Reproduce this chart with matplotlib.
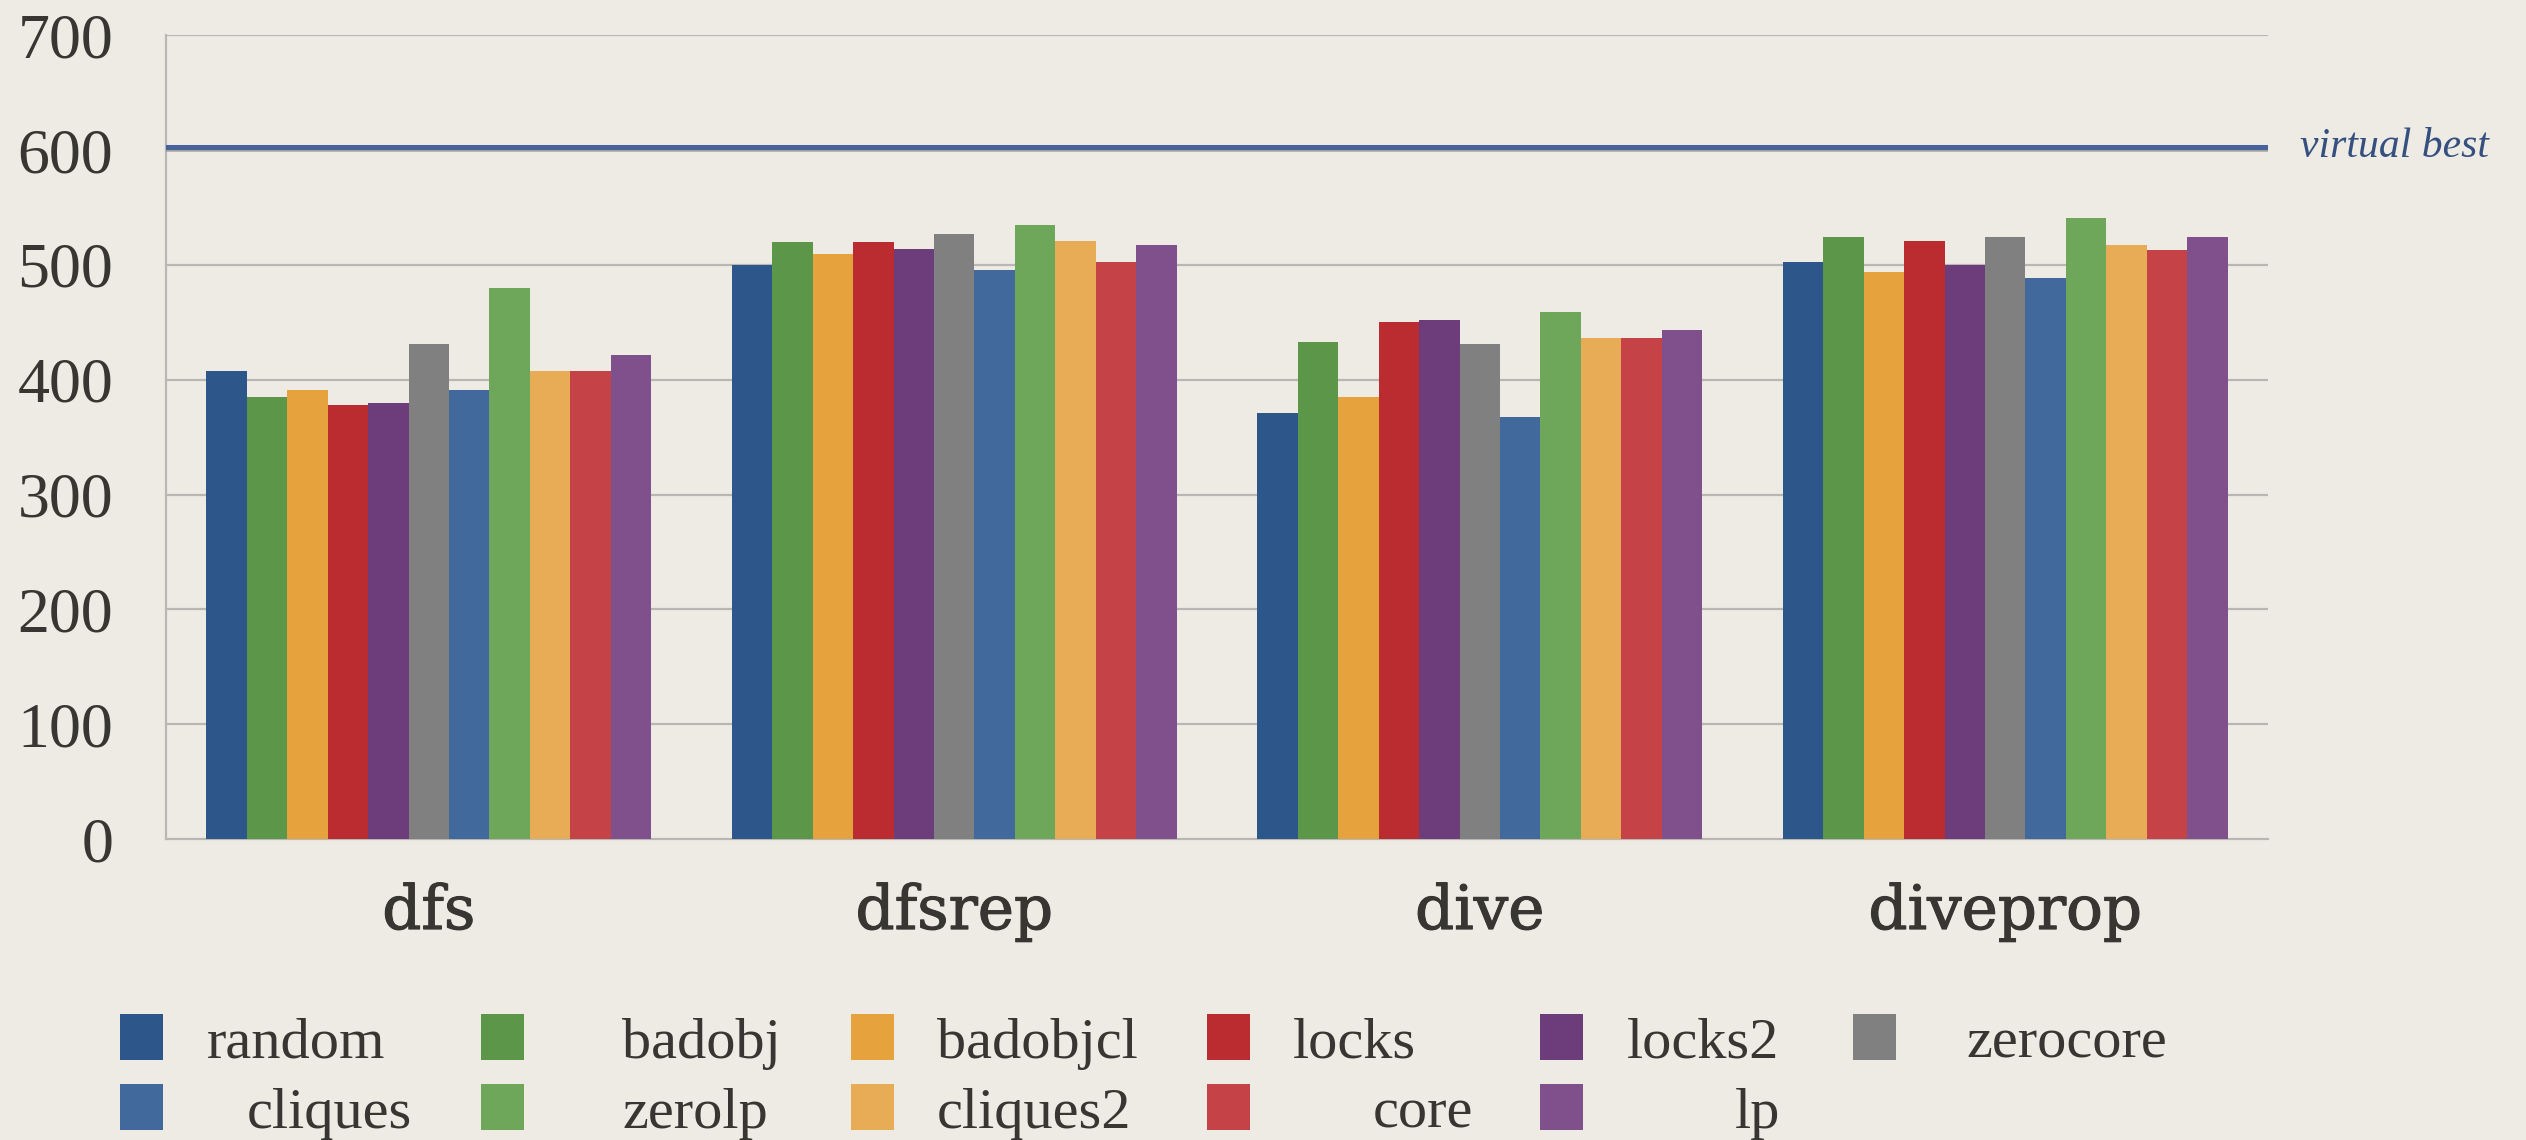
import matplotlib
matplotlib.use("Agg")
import matplotlib.pyplot as plt
import matplotlib.patheffects as pe
from matplotlib.patches import Rectangle
import numpy as np

categories = ['dfs', 'dfsrep', 'dive', 'diveprop']
methods = ['random', 'badobj', 'badobjcl', 'locks', 'locks2', 'zerocore',
           'cliques', 'zerolp', 'cliques2', 'core', 'lp']

random_ = [408, 500, 371, 503]
badobj = [385, 520, 433, 524]
badobjcl = [391, 510, 385, 494]
locks = [378, 520, 450, 521]
locks2 = [380, 514, 452, 500]
zerocore = [431, 527, 431, 524]
cliques = [391, 496, 368, 489]
zerolp = [480, 535, 459, 541]
cliques2 = [408, 521, 436, 517]
core = [408, 503, 436, 513]
lp = [422, 517, 443, 524]
series = [random_, badobj, badobjcl, locks, locks2, zerocore,
          cliques, zerolp, cliques2, core, lp]

virtual_best = 603
yticks = [0, 100, 200, 300, 400, 500, 600, 700]

colors = ['#2d578b', '#5c9648', '#e6a23c', '#ba2c30', '#6d3c7a', '#7f807f',
          '#42699b', '#6ea65a', '#e9ac56', '#c54247', '#80508c']

BG = '#eeebe5'
GRID = '#b8b7b4'
TXT = '#383633'

W, H = 2526, 1140
fig = plt.figure(figsize=(W / 100, H / 100), dpi=100, facecolor=BG)
ax = fig.add_axes([166 / W, 1 - 839 / H, 2102 / W, (839 - 35.4) / H])
ax.set_facecolor('none')

x = np.arange(len(categories))
n = len(methods)
bw = 0.847 / n
for i, (vals, c) in enumerate(zip(series, colors)):
    ax.bar(x - 0.847 / 2 + bw * (i + 0.5), vals, width=bw, color=c,
           edgecolor='none', zorder=3)

ax.set_xlim(-0.5, 3.5)
ax.set_ylim(0, 700)

# horizontal rules
for v in yticks[1:]:
    ax.axhline(v, color=GRID, lw=1.6, zorder=1)
for s in ['top', 'right']:
    ax.spines[s].set_visible(False)
for s in ['left', 'bottom']:
    ax.spines[s].set_color(GRID)
    ax.spines[s].set_linewidth(1.6)

ax.axhline(virtual_best, color='#46639b', lw=3.6, zorder=4,
           path_effects=[pe.SimpleLineShadow(offset=(0, -1.5), shadow_color='#888888', alpha=0.5),
                         pe.Normal()])
ax.text(1.015, virtual_best, 'virtual best', transform=ax.get_yaxis_transform(),
        ha='left', va='center', fontsize=30, style='italic',
        family='Liberation Serif', color='#35507f')

ax.set_yticks(yticks)
ax.set_yticklabels([str(v) for v in yticks], family='Liberation Serif',
                   fontsize=46, color=TXT)
ax.tick_params(axis='y', length=0, pad=38)
ax.set_xticks(x)
ax.set_xticklabels(categories, family='DejaVu Serif', fontsize=44, color=TXT)
for lab in ax.get_xticklabels():
    lab.set_path_effects([pe.withStroke(linewidth=0.8, foreground=TXT)])
ax.tick_params(axis='x', length=0, pad=31)

# legend, two rows
sw_x = [120, 481, 851, 1207, 1540, 1853]
text_x = [207, 622, 937, 1293, 1627, 1966, 247, 622, 937, 1373, 1735]
row_top = [1014, 1084]
sw_w, sw_h = 43, 46
for i, (name, c) in enumerate(zip(methods, colors)):
    row, col = divmod(i, 6)
    y0 = row_top[row]
    fig.add_artist(Rectangle((sw_x[col] / W, 1 - (y0 + sw_h) / H), sw_w / W, sw_h / H,
                             transform=fig.transFigure, color=c, lw=0))
    fig.text(text_x[i] / W, 1 - (y0 + sw_h - 2) / H, name, ha='left', va='baseline',
             family='Liberation Serif', fontsize=42, color=TXT)

fig.savefig('out.png', dpi=100, facecolor=BG)
